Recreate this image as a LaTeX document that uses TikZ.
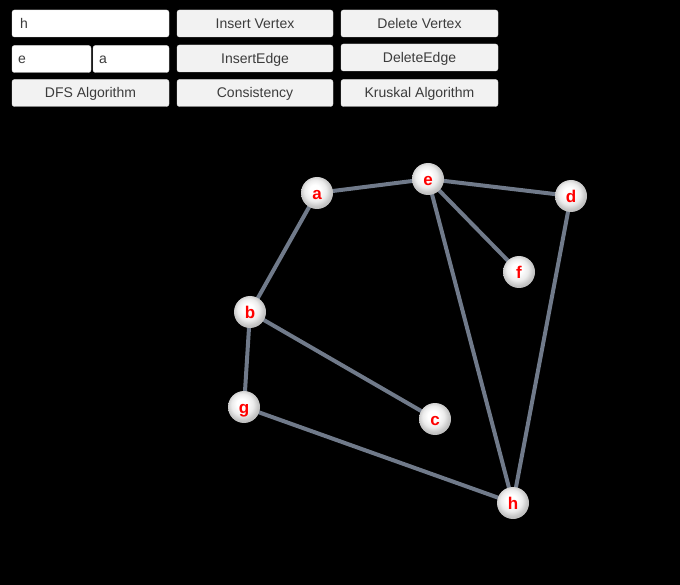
\documentclass[tikz,border=0pt]{standalone}
\usepackage{fontspec}
\setmainfont{Liberation Sans}
\definecolor{edgegray}{RGB}{112,122,138}
\definecolor{btnfill}{RGB}{242,242,242}
\definecolor{btntext}{RGB}{60,60,60}
\pgfdeclareradialshading{sphere}{\pgfpoint{-4bp}{6bp}}{%
  color(0bp)=(white); color(8bp)=(white); color(17bp)=(white!85!gray);
  color(24bp)=(white!55!gray); color(31bp)=(white!40!gray); color(50bp)=(white!40!gray)}
\tikzset{
  btn/.style={draw=white!80!gray, fill=btnfill, rounded corners=2.5pt,
    minimum height=27pt, inner sep=0pt, text=btntext,
    text height=10pt, text depth=0pt,
    font=\fontsize{14}{16}\selectfont},
  field/.style={btn, fill=white, align=left, inner xsep=6pt},
  vtx/.style={circle, minimum size=32pt, inner sep=0pt, shading=sphere,
    text=red, text height=12.2pt, text depth=0pt,
    font=\fontsize{17}{19}\selectfont\bfseries},
  edge/.style={draw=edgegray, line width=4pt}
}
\begin{document}
\begin{tikzpicture}[x=1pt, y=-1pt]
    \fill[black] (0,0) rectangle (680,585);

    \def\rowa{23.5}
    \def\rowb{58.5}
    \def\rowc{93}

    % input fields and buttons
    \node[field, inner xsep=8pt, text width=141pt] (fieldv) at (90.5,\rowa) {h};
    \node[btn, minimum width=156pt] (insv) at (255,\rowa) {Insert Vertex};
    \node[btn, minimum width=157pt] (delv) at (419.5,\rowa) {Delete Vertex};

    \node[field, text width=67pt] (fieldfrom) at (51.5,59) {e};
    \node[field, text width=64pt] (fieldto) at (131,59) {a};
    \node[btn, minimum width=156pt] (inse) at (255,\rowb) {InsertEdge};
    \node[btn, minimum width=157pt] (dele) at (419.5,57.5) {DeleteEdge};

    \node[btn, minimum width=157pt] (dfs) at (90.5,\rowc) {DFS Algorithm};
    \node[btn, minimum width=156pt] (cons) at (255,\rowc) {Consistency};
    \node[btn, minimum width=157pt] (krus) at (419.5,\rowc) {Kruskal Algorithm};

    % vertex positions
    \coordinate (a) at (317,193);
    \coordinate (e) at (428,179);
    \coordinate (d) at (571,196);
    \coordinate (f) at (519,272);
    \coordinate (b) at (250,312);
    \coordinate (g) at (244,407);
    \coordinate (c) at (435,419);
    \coordinate (h) at (513,503);

    % edges
    \draw[edge] (a) -- (e);
    \draw[edge] (e) -- (d);
    \draw[edge] (e) -- (f);
    \draw[edge] (e) -- (h);
    \draw[edge] (d) -- (h);
    \draw[edge] (a) -- (b);
    \draw[edge] (b) -- (g);
    \draw[edge] (b) -- (c);
    \draw[edge] (g) -- (h);

    % vertices
    \foreach \v in {a,e,d,f,b,g,c,h}
        \node[vtx] (v\v) at (\v) {\v};
\end{tikzpicture}
\end{document}
